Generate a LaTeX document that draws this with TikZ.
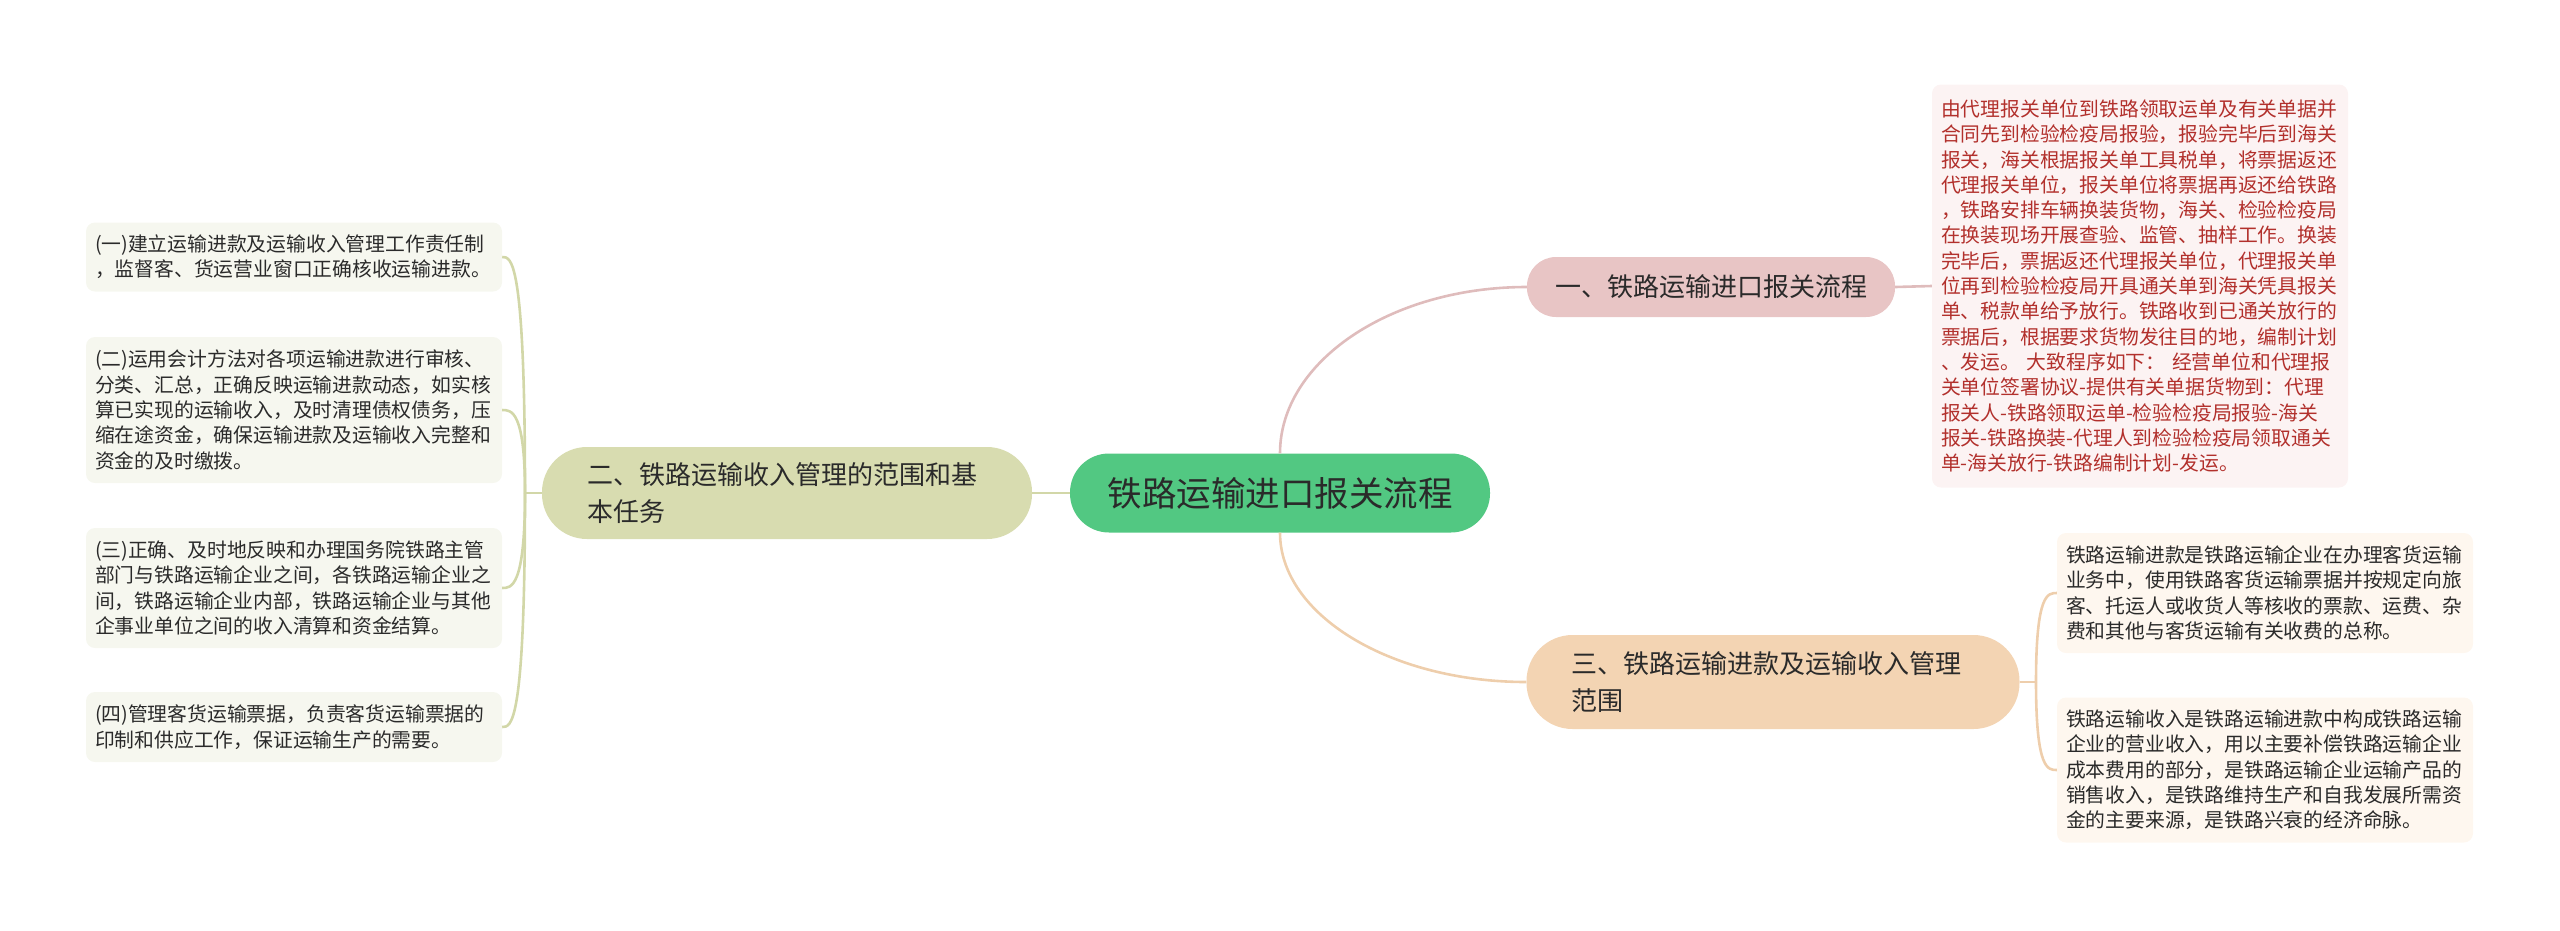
\documentclass[tikz,border=0pt]{standalone}
\usepackage{fontspec}
\setmainfont{Noto Sans CJK SC}
\usetikzlibrary{calc}
\definecolor{ink}{HTML}{2A2A2A}
\definecolor{rootfill}{HTML}{52C882}
\definecolor{pinkfill}{HTML}{E8C5C5}
\definecolor{pinkline}{HTML}{DFBCBC}
\definecolor{pinkbg}{HTML}{FCF3F3}
\definecolor{redtext}{HTML}{B2302C}
\definecolor{olivefill}{HTML}{D8DCB0}
\definecolor{oliveline}{HTML}{D2D7A8}
\definecolor{olivebg}{HTML}{F6F7EF}
\definecolor{peachfill}{HTML}{F3D4B3}
\definecolor{peachline}{HTML}{EECEAC}
\definecolor{peachbg}{HTML}{FEF7EF}
\newcommand{\NoteW}{398pt}
\newcommand{\NoteFont}{\fontsize{19.8}{25.3}\selectfont}
\newcommand{\TopicFont}{\fontsize{26}{37.5}\selectfont}

\begin{document}
\begin{tikzpicture}[x=1pt, y=-1pt, ink,
    mainbox/.style={fill=rootfill, rounded corners=39pt, minimum width=420pt, minimum height=79pt, inner sep=0pt, font=\fontsize{34.5}{40}\selectfont},
    topicbox/.style={rounded corners=#1, inner xsep=45pt, inner ysep=0pt, font=\TopicFont},
    notebox/.style={rounded corners=9pt, text width=\NoteW, align=left, inner xsep=9pt, inner ysep=0pt, font=\NoteFont},
    linkline/.style={line width=2.6pt, draw=#1},
  ]
% --- Bounds ------------------------------------------------------------------------
\useasboundingbox (0,0) rectangle (2560,930);

% --- Centre and topics -------------------------------------------------------------
\node[mainbox] (root) at (1280,493) {铁路运输进口报关流程};
\node[topicbox=29pt, fill=pinkfill, minimum width=368pt, minimum height=60pt, inner xsep=0pt] (one) at (1711,287) {一、铁路运输进口报关流程};
\node[topicbox=45pt, fill=olivefill, text width=400pt, align=left, minimum height=92pt] (two) at (787,493) {二、铁路运输收入管理的范围和基\\本任务};
\node[topicbox=46pt, fill=peachfill, text width=403pt, align=left, minimum height=94pt] (three) at (1773,682) {三、铁路运输进款及运输收入管理\\范围};

% --- Notes of one -----------------------------------------------------------------
\node[notebox, fill=pinkbg, text=redtext, minimum height=403pt] (oneNote) at (2140,286) {由代理报关单位到铁路领取运单及有关单据并\\合同先到检验检疫局报验，报验完毕后到海关\\报关，海关根据报关单工具税单，将票据返还\\代理报关单位，报关单位将票据再返还给铁路\\，铁路安排车辆换装货物，海关、检验检疫局\\在换装现场开展查验、监管、抽样工作。换装\\完毕后，票据返还代理报关单位，代理报关单\\位再到检验检疫局开具通关单到海关凭具报关\\单、税款单给予放行。铁路收到已通关放行的\\票据后，根据要求货物发往目的地，编制计划\\、发运。 大致程序如下： 经营单位和代理报\\关单位签署协议-提供有关单据货物到：代理\\报关人-铁路领取运单-检验检疫局报验-海关\\报关-铁路换装-代理人到检验检疫局领取通关\\单-海关放行-铁路编制计划-发运。};

% --- Notes of two -----------------------------------------------------------------
\node[notebox, fill=olivebg, minimum height=69pt] (twoA) at (294,257) {(一)建立运输进款及运输收入管理工作责任制\\，监督客、货运营业窗口正确核收运输进款。};
\node[notebox, fill=olivebg, minimum height=146pt] (twoB) at (294,410) {(二)运用会计方法对各项运输进款进行审核、\\分类、汇总，正确反映运输进款动态，如实核\\算已实现的运输收入，及时清理债权债务，压\\缩在途资金，确保运输进款及运输收入完整和\\资金的及时缴拨。};
\node[notebox, fill=olivebg, minimum height=120pt] (twoC) at (294,588) {(三)正确、及时地反映和办理国务院铁路主管\\部门与铁路运输企业之间，各铁路运输企业之\\间，铁路运输企业内部，铁路运输企业与其他\\企事业单位之间的收入清算和资金结算。};
\node[notebox, fill=olivebg, minimum height=70pt] (twoD) at (294,727) {(四)管理客货运输票据，负责客货运输票据的\\印制和供应工作，保证运输生产的需要。};

% --- Notes of three ---------------------------------------------------------------
\node[notebox, fill=peachbg, minimum height=120pt] (threeA) at (2265,593) {铁路运输进款是铁路运输企业在办理客货运输\\业务中，使用铁路客货运输票据并按规定向旅\\客、托运人或收货人等核收的票款、运费、杂\\费和其他与客货运输有关收费的总称。};
\node[notebox, fill=peachbg, minimum height=145pt] (threeB) at (2265,770) {铁路运输收入是铁路运输进款中构成铁路运输\\企业的营业收入，用以主要补偿铁路运输企业\\成本费用的部分，是铁路运输企业运输产品的\\销售收入，是铁路维持生产和自我发展所需资\\金的主要来源，是铁路兴衰的经济命脉。};

% --- Links (drawn last) -------------------------------------------------------------
\draw[linkline=pinkline] (root.north) .. controls +(0,-92) and +(-136,0) .. (one.west);
\draw[linkline=peachline] (root.south) .. controls +(0,82) and +(-136,0) .. (three.west);
\draw[linkline=oliveline] (root.west) -- (two.east);
\draw[linkline=pinkline] (one.east) -- (oneNote.west);

\coordinate (twoJoin) at (525,493);
\draw[linkline=oliveline] (two.west) -- (twoJoin);
\foreach \n in {twoA,twoB,twoC,twoD}
  \draw[linkline=oliveline] (twoJoin) .. controls (twoJoin |- \n.east) and ([xshift=9pt]\n.east) .. (\n.east);

\coordinate (threeJoin) at (2036,682);
\draw[linkline=peachline] (three.east) -- (threeJoin);
\foreach \n in {threeA,threeB}
  \draw[linkline=peachline] (threeJoin) .. controls (threeJoin |- \n.west) and ([xshift=-9pt]\n.west) .. (\n.west);
\end{tikzpicture}
\end{document}
